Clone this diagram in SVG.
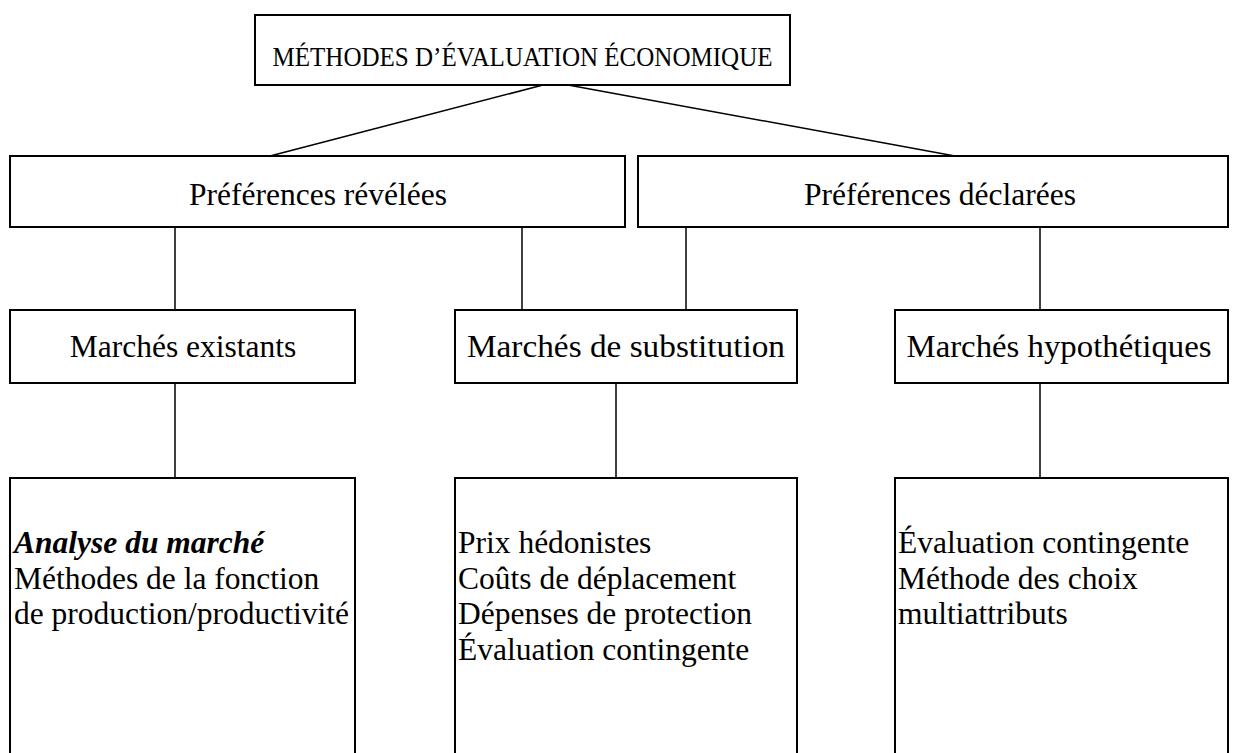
<svg xmlns="http://www.w3.org/2000/svg" width="1237" height="753" viewBox="0 0 1237 753">
<style>
.box{fill:#fff;stroke:#000;stroke-width:2}
.ln{stroke:#000;stroke-width:1.5;fill:none}
text{font-family:"Liberation Serif","Times New Roman",serif;font-size:31.5px;fill:#000}
.t{font-size:28px}
.c{text-anchor:middle}
.bi{font-weight:bold;font-style:italic}
</style>
<rect width="1237" height="753" fill="#fff"/>
<g id="connectors">
<line class="ln" x1="543" y1="85" x2="270" y2="156"/>
<line class="ln" x1="568" y1="85" x2="955" y2="156"/>
<line class="ln" x1="175" y1="227" x2="175" y2="310"/>
<line class="ln" x1="522" y1="227" x2="522" y2="310"/>
<line class="ln" x1="686" y1="227" x2="686" y2="310"/>
<line class="ln" x1="1040" y1="227" x2="1040" y2="310"/>
<line class="ln" x1="175" y1="383" x2="175" y2="478"/>
<line class="ln" x1="616" y1="383" x2="616" y2="478"/>
<line class="ln" x1="1040" y1="383" x2="1040" y2="478"/>
</g>
<g id="root">
<rect class="box" x="255" y="15" width="535" height="70"/>
<text class="t c" x="522.5" y="66" textLength="500" lengthAdjust="spacingAndGlyphs">MÉTHODES D’ÉVALUATION ÉCONOMIQUE</text>
</g>
<g id="pref-revelees">
<rect class="box" x="10" y="156" width="615" height="71"/>
<text class="c" x="318" y="205">Préférences révélées</text>
</g>
<g id="pref-declarees">
<rect class="box" x="638" y="156" width="590" height="71"/>
<text class="c" x="940" y="205">Préférences déclarées</text>
</g>
<g id="marches-existants">
<rect class="box" x="10" y="310" width="345" height="73"/>
<text class="c" x="183" y="357">Marchés existants</text>
</g>
<g id="marches-substitution">
<rect class="box" x="455" y="310" width="342" height="73"/>
<text class="c" x="626" y="357" textLength="318" lengthAdjust="spacingAndGlyphs">Marchés de substitution</text>
</g>
<g id="marches-hypothetiques">
<rect class="box" x="895" y="310" width="333" height="73"/>
<text class="c" x="1059" y="357" textLength="305" lengthAdjust="spacingAndGlyphs">Marchés hypothétiques</text>
</g>
<g id="methodes-existants">
<rect class="box" x="10" y="478" width="345" height="290"/>
<text x="14" y="553" class="bi">Analyse du marché</text>
<text x="14" y="589">Méthodes de la fonction</text>
<text x="14" y="624">de production/productivité</text>
</g>
<g id="methodes-substitution">
<rect class="box" x="455" y="478" width="342" height="290"/>
<text x="458" y="553">Prix hédonistes</text>
<text x="458" y="589">Coûts de déplacement</text>
<text x="458" y="624">Dépenses de protection</text>
<text x="458" y="660">Évaluation contingente</text>
</g>
<g id="methodes-hypothetiques">
<rect class="box" x="895" y="478" width="333" height="290"/>
<text x="898" y="553">Évaluation contingente</text>
<text x="898" y="589">Méthode des choix</text>
<text x="898" y="624">multiattributs</text>
</g>
</svg>
